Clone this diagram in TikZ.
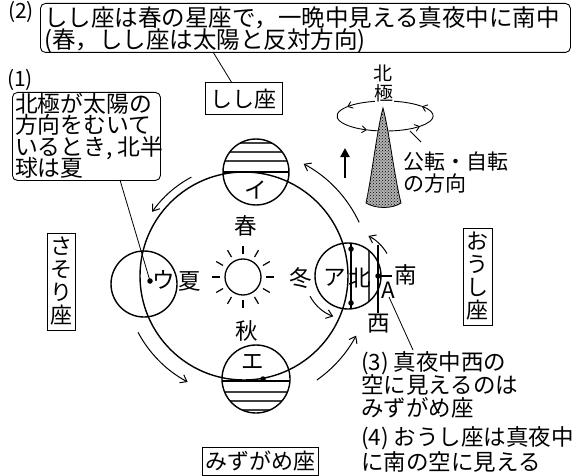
\documentclass[tikz,border=0pt]{standalone}
\usepackage{fontspec}
\newfontfamily\jpfont{Noto Sans CJK JP}
\usetikzlibrary{arrows.meta,patterns}
\begin{document}
\begin{tikzpicture}[x=1pt,y=-1pt,
  every node/.style={inner sep=0pt, font=\jpfont\fontsize{22.5}{23}\selectfont},
  big/.style={font=\jpfont\fontsize{23.5}{21}\selectfont},
  mid/.style={font=\jpfont\fontsize{22.8}{21}\selectfont},
  small/.style={font=\jpfont\fontsize{21}{21}\selectfont},
  tiny/.style={font=\jpfont\fontsize{19}{19}\selectfont},
  note/.style={draw, rounded corners=5pt, line width=0.9pt},
  cbox/.style={draw, line width=1pt, inner sep=2.5pt, align=center,
    font=\jpfont\fontsize{22}{23}\selectfont},
  body/.style={draw, line width=1.4pt},
  night/.style={line width=1.2pt, black!75},
  term/.style={line width=1.3pt},
  thin/.style={line width=0.8pt},
  motion/.style={line width=1pt, -{Straight Barb[length=6pt,width=9pt]}},
  spin/.style={line width=0.9pt, -{Straight Barb[length=4.5pt,width=7pt]}},
  dot/.style={circle, fill=black, minimum size=5.5pt, inner sep=0pt},
]
\useasboundingbox (0,0) rectangle (578,476);

% ---------- note (2) ----------
\node[small] (n2) at (21,12) {(2)};
\node[note, anchor=north west, minimum width=530, minimum height=49] (box2) at (40,3) {};
\node[big, anchor=base west] (t2a) at (44,27) {しし座は春の星座で，一晩中見える真夜中に南中};
\node[big, anchor=base west] (t2b) at (44,48.5) {(春，しし座は太陽と反対方向)};

% ---------- note (1) ----------
\node[small] (n1) at (20,80) {(1)};
\node[note, anchor=north west, minimum width=148, minimum height=88] (box1) at (12,92) {};
\node[mid, anchor=base west] (t1a) at (15,113) {北極が太陽の};
\node[mid, anchor=base west] (t1b) at (15,134) {方向をむいて};
\node[mid, anchor=base west] (t1c) at (15,155) {いるとき, 北半};
\node[mid, anchor=base west] (t1d) at (15,176) {球は夏};

% ---------- constellations ----------
\node[cbox, minimum width=77, minimum height=32] (leo) at (243.5,99) {しし座};
\node[cbox, minimum width=28, minimum height=97] (sco) at (61,281.5) {さ\\そ\\り\\座};
\node[cbox, minimum width=29, minimum height=97] (tau) at (477.5,276.5) {お\\う\\し\\座};
\node[cbox, minimum width=116, minimum height=28] (aqr) at (260,461) {みずがめ座};

% ---------- orbit and sun ----------
\draw[body] (244,276) circle[radius=104];
\node[circle, draw, line width=1.3pt, minimum size=36] (sun) at (243,277) {};
\foreach \a in {0,30,...,330}
  \draw[line width=1.2pt] (sun.center) ++(\a:23) -- ++(\a:8);

% ---------- Earth I (top) ----------
\begin{scope}
  \clip (256,172) circle[radius=33];
  \draw[term] (220,172) -- (292,172);
  \foreach \y in {161,152,143} \draw[night] (220,\y) -- (292,\y);
\end{scope}
\node[body, circle, minimum size=66] (earthI) at (256,172) {};

% ---------- Earth E (bottom) ----------
\begin{scope}
  \clip (256,379) circle[radius=34];
  \draw[term] (220,381) -- (292,381);
  \foreach \y in {392,401,410} \draw[night] (220,\y) -- (292,\y);
\end{scope}
\node[body, circle, minimum size=68] (earthE) at (256,379) {};
\node[dot] (dotE) at (263,379) {};

% ---------- Earth U (left) ----------
\node[body, circle, minimum size=66] (earthU) at (144,284) {};
\node[dot] (dotU) at (150,281) {};

% ---------- Earth A (right) ----------
\begin{scope}
  \clip (348,276) circle[radius=33];
  \draw[term] (351,240) -- (351,312);
  \draw[night] (369,240) -- (369,312);
\end{scope}
\node[body, circle, minimum size=66] (earthA) at (348,276) {};
\node[dot] (poleN) at (351,249) {};
\node[dot] (poleS) at (351,303) {};
\coordinate (hzTop) at (378,245);
\coordinate (hzBot) at (378,313);
\draw[term] (hzTop) -- (hzBot);
\node[dot] (obsA) at (378,276) {};
\coordinate (southEnd) at (392,276);
\draw[term] (obsA.center) -- (southEnd);

% ---------- labels ----------
\node (lspring) at (246,226) {春};
\node (lautumn) at (247,331) {秋};
\node (lsummer) at (190,281) {夏};
\node (lwinter) at (301,278) {冬};
\node (lI) at (256,190) {イ};
\node (lE) at (253,362) {エ};
\node (lU) at (164,280) {ウ};
\node (lA) at (335,278) {ア};
\node (lN) at (360,278) {北};
\node (lS) at (406,275) {南};
\node (lAA) at (388,290) {A};
\node (lW) at (379,324) {西};

% ---------- orbital motion arrows ----------
\draw[motion] (244,276) ++(-25:127) arc[start angle=-25, end angle=-62, radius=127];
\draw[motion] (244,276) ++(-118:112) arc[start angle=-118, end angle=-145, radius=112];
\draw[motion] (244,276) ++(-208:120) arc[start angle=-208, end angle=-242, radius=120];
\draw[motion] (244,276) ++(55:127) arc[start angle=55, end angle=28, radius=127];
% rotation of Earth A
\draw[motion] (348,276) ++(-30:45) arc[start angle=-30, end angle=-63, radius=45];
\draw[motion] (348,276) ++(-208:43) arc[start angle=-208, end angle=-250, radius=43];

% ---------- axis figure ----------
\draw[spin] (385,116) ++(-40:48 and 15) arc[start angle=-40, end angle=-142, x radius=48, y radius=15];
\draw[spin] (385,116) ++(-142:48 and 15) arc[start angle=-142, end angle=-248, x radius=48, y radius=15];
\draw[spin] (385,116) ++(-248:48 and 15) arc[start angle=-248, end angle=-317, x radius=48, y radius=15];
\draw[spin] (385,116) ++(-317:48 and 15) arc[start angle=-317, end angle=-400, x radius=48, y radius=15];
\draw[line width=0.8pt, preaction={fill=black!30}, pattern=crosshatch dots, pattern color=black]
  (383,108) .. controls (377,130) and (372,175) .. (366,203)
  .. controls (376,209) and (392,209) .. (401,203)
  .. controls (394,175) and (389,130) .. (383,108) -- cycle;
\node[tiny] (axN) at (383,73) {北};
\node[tiny, fill=white] (axP) at (384,93) {極};
\node[small, anchor=base west] (rev1) at (403,169.5) {公転・自転};
\node[small, anchor=base west] (rev2) at (403,191.5) {の方向};
\coordinate (revA) at (410,131);
\coordinate (revB) at (421,142);
\draw[thin] (revA) -- (revB);
\coordinate (upB) at (345,178);
\coordinate (upT) at (345,148);
\draw[line width=2.5pt, -{Triangle[length=9pt,width=9pt]}] (upB) -- (upT);

% ---------- notes (3), (4) ----------
\node[anchor=base west] (q3a) at (361,370.5) {(3) 真夜中西の};
\node[anchor=base west] (q3b) at (361,393.5) {空に見えるのは};
\node[anchor=base west] (q3c) at (361,416.5) {みずがめ座};
\node[anchor=base west] (q4a) at (361,445.5) {(4) おうし座は真夜中};
\node[anchor=base west] (q4b) at (361,470.5) {に南の空に見える};

% ---------- leader lines ----------
\coordinate (l2a) at (213,52);
\coordinate (l2b) at (232,83);
\draw[thin] (l2a) -- (l2b);
\coordinate (l1a) at (120,180);
\draw[thin] (l1a) -- (dotU.center);
\coordinate (l3a) at (389,297);
\coordinate (l3b) at (413,350);
\draw[thin] (l3a) -- (l3b);
\end{tikzpicture}
\end{document}
